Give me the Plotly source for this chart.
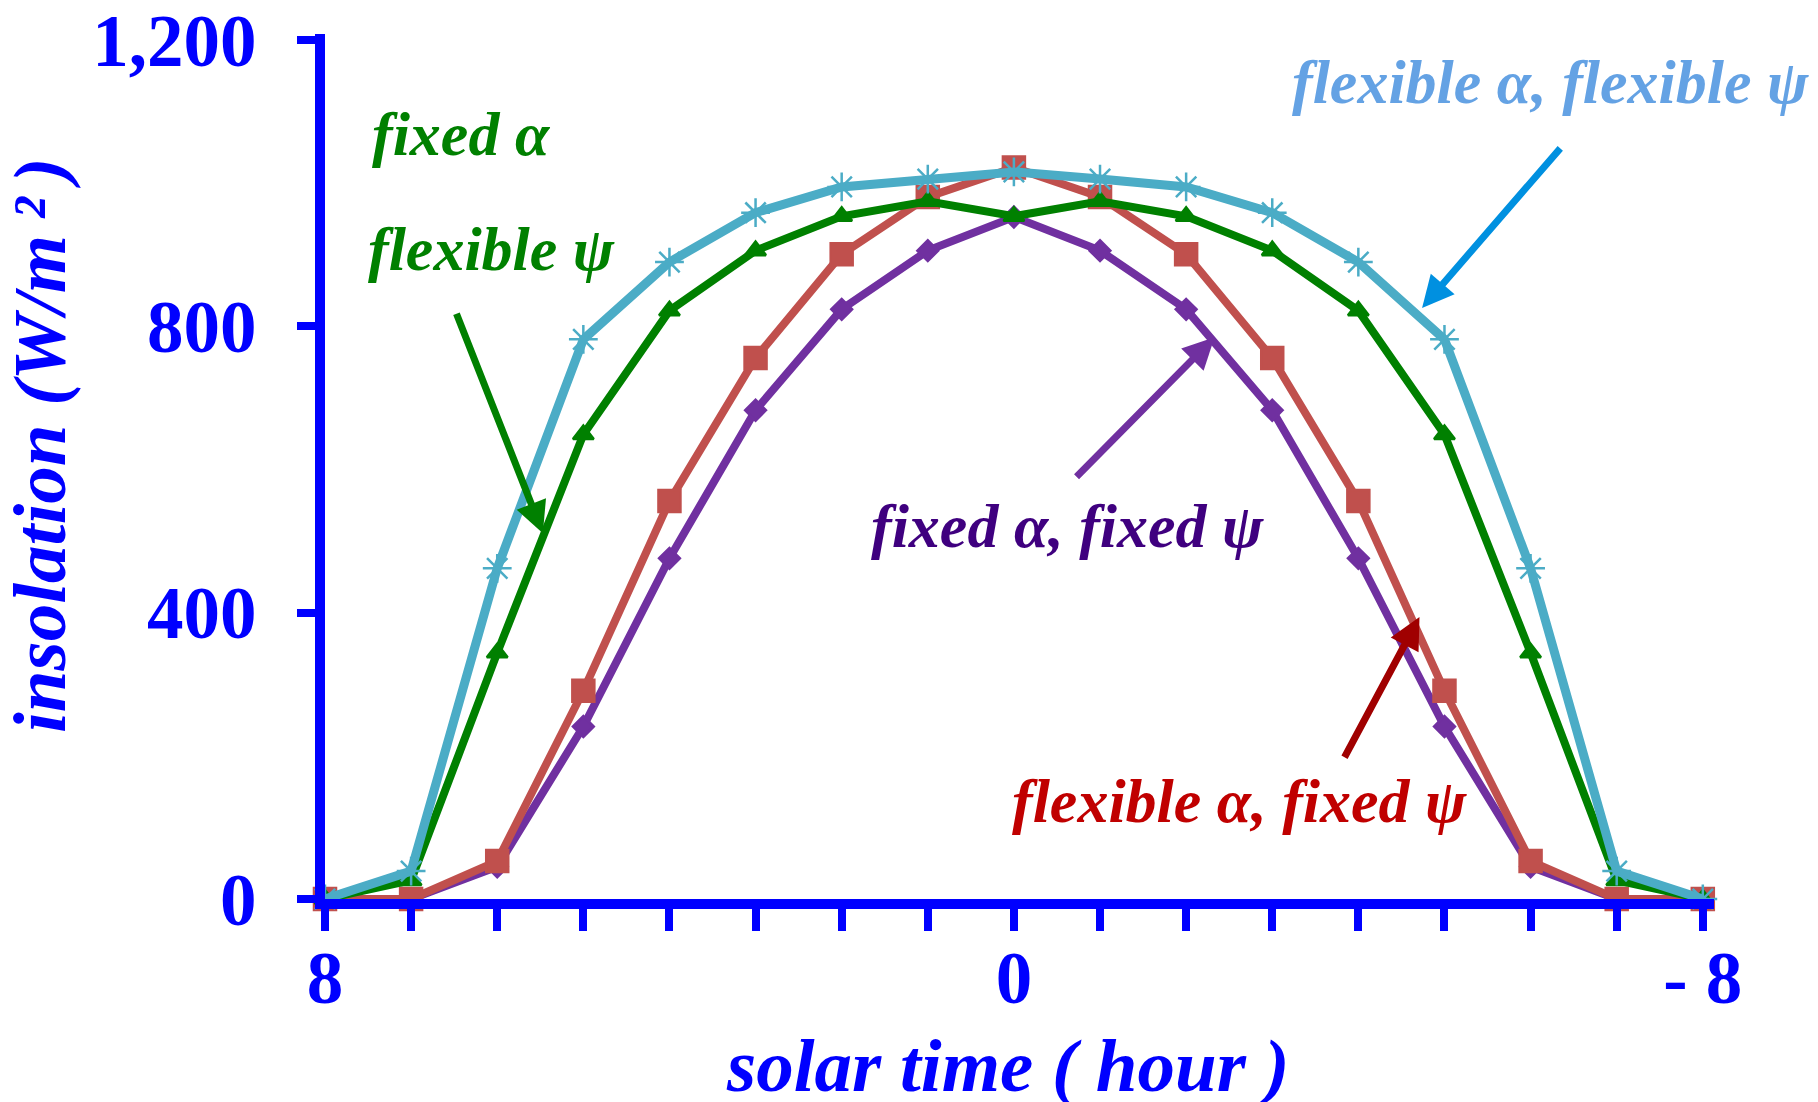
import plotly.graph_objects as go

# ---- data ----
hours = [8, 7, 6, 5, 4, 3, 2, 1, 0, -1, -2, -3, -4, -5, -6, -7, -8]
fixed_fixed = [0, 0, 45, 241, 476, 683, 824, 906, 953, 906, 824, 683, 476, 241, 45, 0, 0]
flex_fixed = [0, 0, 53, 291, 556, 756, 901, 981, 1022, 981, 901, 756, 556, 291, 53, 0, 0]
fixed_flex = [0, 26, 344, 649, 822, 906, 954, 975, 954, 975, 954, 906, 822, 649, 344, 26, 0]
flex_flex = [0, 39, 462, 782, 890, 959, 995, 1006, 1016, 1006, 995, 959, 890, 782, 462, 39, 0]

x_tickvals = hours
x_ticktext = ["8"] + [""] * 7 + ["0"] + [""] * 7 + ["- 8"]
y_tickvals = [0, 400, 800, 1200]
y_ticktext = ["0", "400", "800", "1,200"]

# ---- layout geometry (pixels) ----
W, H = 1818, 1102
L, R, T, B = 317, 1706, 26, 891

def pxx(p):
    return (p - L) / (R - L)

def pxy(p):
    return (B - p) / (B - T)

BLUE = "#0000FF"
FONT = "Liberation Serif"

fig = go.Figure()

series = [
    (fixed_fixed, "#7030A0", "diamond", 16, 8, "fixed α, fixed ψ"),
    (flex_fixed, "#C0504D", "square", 22, 8, "flexible α, fixed ψ"),
    (fixed_flex, "#008000", "triangle-up", 18, 8, "fixed α, flexible ψ"),
    (flex_flex, "#4BACC6", "asterisk-open", 24, 9, "flexible α, flexible ψ"),
]
for vals, col, sym, msize, lw, name in series:
    fig.add_trace(go.Scatter(
        x=hours, y=vals, mode="lines+markers", name=name,
        line=dict(color=col, width=lw),
        marker=dict(symbol=sym, size=msize, color=col,
                    line=dict(color=col, width=2.5)),
        cliponaxis=False, showlegend=False,
    ))

tick_font = dict(family=FONT, size=73, color=BLUE, weight="bold")
title_font = dict(family=FONT, size=75, color=BLUE, weight="bold", style="italic")

fig.update_layout(
    template="none",
    width=W, height=H,
    margin=dict(l=L, r=W - R, t=T, b=H - B, autoexpand=False),
    paper_bgcolor="white", plot_bgcolor="white",
    xaxis=dict(
        range=[8, -8.13], tickvals=x_tickvals, ticktext=x_ticktext,
        showgrid=False, zeroline=False, showline=True, automargin=False,
        linecolor=BLUE, linewidth=10,
        ticks="outside", ticklen=22, tickwidth=8, tickcolor=BLUE,
        tickfont=tick_font, ticklabelstandoff=-16, ticklabeloverflow="allow",
    ),
    yaxis=dict(
        range=[0, 1208.7], tickvals=y_tickvals, ticktext=y_ticktext,
        showgrid=False, zeroline=False, showline=True, automargin=False,
        linecolor=BLUE, linewidth=10,
        ticks="outside", ticklen=18, tickwidth=8, tickcolor=BLUE,
        tickfont=tick_font, ticklabelstandoff=26, ticklabeloverflow="allow",
    ),
)

ann = []
# axis titles
ann.append(dict(xref="paper", yref="paper", x=pxx(1000), y=pxy(1057),
                text="solar time ( hour )", showarrow=False,
                xanchor="center", yanchor="middle", font=title_font))
ann.append(dict(xref="paper", yref="paper", x=pxx(31), y=pxy(437),
                text="insolation (W/m\u2009²\u2009)", showarrow=False,
                textangle=-90, xanchor="center", yanchor="middle", font=title_font))

def label(text, left_px, cy_px, color, size=62):
    ann.append(dict(xref="paper", yref="paper", x=pxx(left_px), y=pxy(cy_px),
                    text=text, showarrow=False, xanchor="left", yanchor="middle",
                    font=dict(family=FONT, size=size, color=color,
                              weight="bold", style="italic")))

label("fixed α", 362, 126, "#008000")
label("flexible ψ", 358, 241, "#008000")
label("flexible α, flexible ψ", 1282, 74, "#64A2E4")
label("fixed α, fixed ψ", 861, 518, "#3F007F")
label("flexible α, fixed ψ", 1002, 793, "#C00000")

def arrow(tail, tip, color, width):
    ann.append(dict(xref="x", yref="y", axref="x", ayref="y",
                    x=tip[0], y=tip[1], ax=tail[0], ay=tail[1], text="",
                    showarrow=True, arrowhead=2, arrowsize=0.9,
                    arrowwidth=width, arrowcolor=color))

arrow((6.48, 820), (5.47, 511), "#008000", 7)
arrow((-6.36, 1051), (-4.74, 826), "#0090E0", 7)
arrow((-0.71, 588), (-2.33, 785), "#7030A0", 7)
arrow((-3.83, 196), (-4.71, 394), "#A00000", 7)

fig.update_layout(annotations=ann)
fig.write_html("out.html")
